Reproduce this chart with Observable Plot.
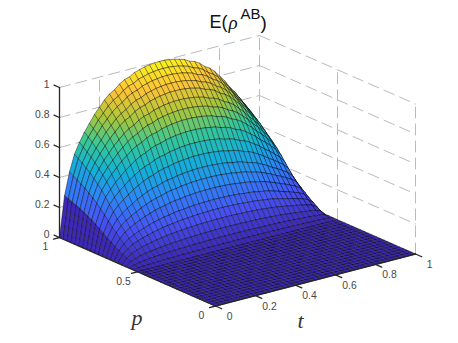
<!DOCTYPE html>
<html><head><meta charset="utf-8">
<style>html,body{margin:0;padding:0;background:#fff}svg{display:block}</style>
<script src="https://cdn.jsdelivr.net/npm/d3@7"></script>
<script src="https://cdn.jsdelivr.net/npm/@observablehq/plot@0.6"></script>
</head><body><div id="chart"></div>
<script>
// Height read along the far edge p=1, for t = 0, 0.025 ... 1
const edgeHeights = [0,.27,.42,.53,.60,.66,.71,.76,.80,.84,.87,.89,.92,.94,.95,.97,.98,.99,.995,1,1,1,.995,.99,.98,.97,.95,.94,.92,.89,.87,.84,.80,.76,.71,.67,.62,.57,.50,.36,0];
// Relative height read across the surface, for p = 0, 0.025 ... 1
const pFactors = [0,0,0,0,0,0,0,0,0,0,0,0,0,0,0,0,0,0,0,0,0,.02,.05,.09,.14,.19,.24,.30,.36,.42,.49,.56,.63,.695,.75,.80,.85,.89,.93,.965,1];
const zTicks = [0,.2,.4,.6,.8,1];
const tTicks = [0,.2,.4,.6,.8,1];
const pTicks = [0,.5,1];
const parula = ["#3d29b4","#4752f4","#2d87f7","#12b1d6","#37c897","#abc739","#fec338","#f9fb14"];

const X = (t,p) => 200*t - 156*p;
const Y = (t,p,z) => 52*t + 68.5*p + 150*z;
const xy = (t,p,z) => ({x:X(t,p), y:Y(t,p,z)});

const n = edgeHeights.length - 1;
const zAt = (i,j) => edgeHeights[i]*pFactors[j];
const cells = [];
for (let j = n-1; j >= 0; j--) for (let i = n-1; i >= 0; i--) {
  const v = zAt(i,j), id = `${i}-${j}`;
  for (const [a,b] of [[i,j],[i+1,j],[i+1,j+1],[i,j+1]])
    cells.push({id, v, ...xy(a/n, b/n, zAt(a,b))});
}
const grid = [];
const seg = (id,a,b) => grid.push({id,...a},{id,...b});
for (const z of zTicks) {
  seg("zl"+z, xy(0,1,z), xy(1,1,z));
  seg("zr"+z, xy(1,1,z), xy(1,0,z));
}
for (const t of tTicks) { seg("tw"+t, xy(t,1,0), xy(t,1,1)); seg("tf"+t, xy(t,0,0), xy(t,1,0)); }
for (const p of pTicks) { seg("pw"+p, xy(1,p,0), xy(1,p,1)); seg("pf"+p, xy(0,p,0), xy(1,p,0)); }

const axes = [];
const ax = (id,a,b) => axes.push({id,...a},{id,...b});
ax("z", xy(0,1,0), xy(0,1,1));
ax("p", xy(0,0,0), xy(0,1,0));
ax("t", xy(0,0,0), xy(1,0,0));
for (const z of zTicks) ax("zt"+z, xy(0,1,z), xy(0,1.035,z));
for (const t of tTicks) ax("tt"+t, xy(t,0,0), xy(t,-.04,0));
for (const p of pTicks) ax("pt"+p, xy(0,p,0), xy(-.03,p,0));

const sans = "Liberation Sans, Arial, sans-serif";
const labelColor = "#484848";
const zLab = zTicks.map(z => ({s:String(z), ...xy(0,1,z)}));
const tLab = tTicks.map(t => ({s:String(t), ...xy(t,-.09,0)}));
const pLab = pTicks.map(p => ({s:String(p), ...xy(-.07,p,0)}));

const plot = Plot.plot({
  width:458, height:343, margin:0,
  x:{domain:[-215,243], range:[0,458], axis:null},
  y:{domain:[-37.5,305.5], range:[343,0], axis:null},
  color:{type:"linear", domain:d3.range(parula.length).map(i=>i/(parula.length-1)), range:parula, interpolate:"rgb"},
  marks:[
    Plot.line(grid,{x:"x",y:"y",z:"id",stroke:"#bbb",strokeWidth:1,strokeDasharray:"11,6"}),
    Plot.line(cells,{x:"x",y:"y",z:"id",fill:"v",stroke:"#000",strokeWidth:.55,strokeOpacity:.75,curve:"linear-closed"}),
    Plot.line(axes,{x:"x",y:"y",z:"id",stroke:"#262626",strokeWidth:1.3}),
    Plot.text(zLab,{x:"x",y:"y",text:"s",dx:-10,dy:-3,textAnchor:"end",fill:labelColor,fontFamily:sans,fontSize:10.4}),
    Plot.text(tLab,{x:"x",y:"y",text:"s",dy:4.5,fill:labelColor,fontFamily:sans,fontSize:10.4}),
    Plot.text(pLab,{x:"x",y:"y",text:"s",dy:6,fill:labelColor,fontFamily:sans,fontSize:10.4}),
    Plot.text(["E("],{frameAnchor:"top-left",dx:209,dy:15,fontFamily:sans,fontSize:18,fill:"#111"}),
    Plot.text(["ρ"],{frameAnchor:"top-left",dx:228,dy:15,fontFamily:"Liberation Serif",fontStyle:"italic",fontSize:19,fill:"#111"}),
    Plot.text(["AB"],{frameAnchor:"top-left",dx:240,dy:8,fontFamily:sans,fontSize:15,fill:"#111"}),
    Plot.text([")"],{frameAnchor:"top-left",dx:260,dy:15,fontFamily:sans,fontSize:19,fill:"#111"}),
    Plot.text(["p"],{frameAnchor:"top-left",dx:131,dy:309,fontFamily:"Liberation Serif",fontStyle:"italic",fontSize:22,fill:"#333"}),
    Plot.text(["t"],{frameAnchor:"top-left",dx:297,dy:312,fontFamily:"Liberation Serif",fontStyle:"italic",fontSize:22,fill:"#333"})
  ]
});
document.getElementById("chart").append(plot);
</script></body></html>
